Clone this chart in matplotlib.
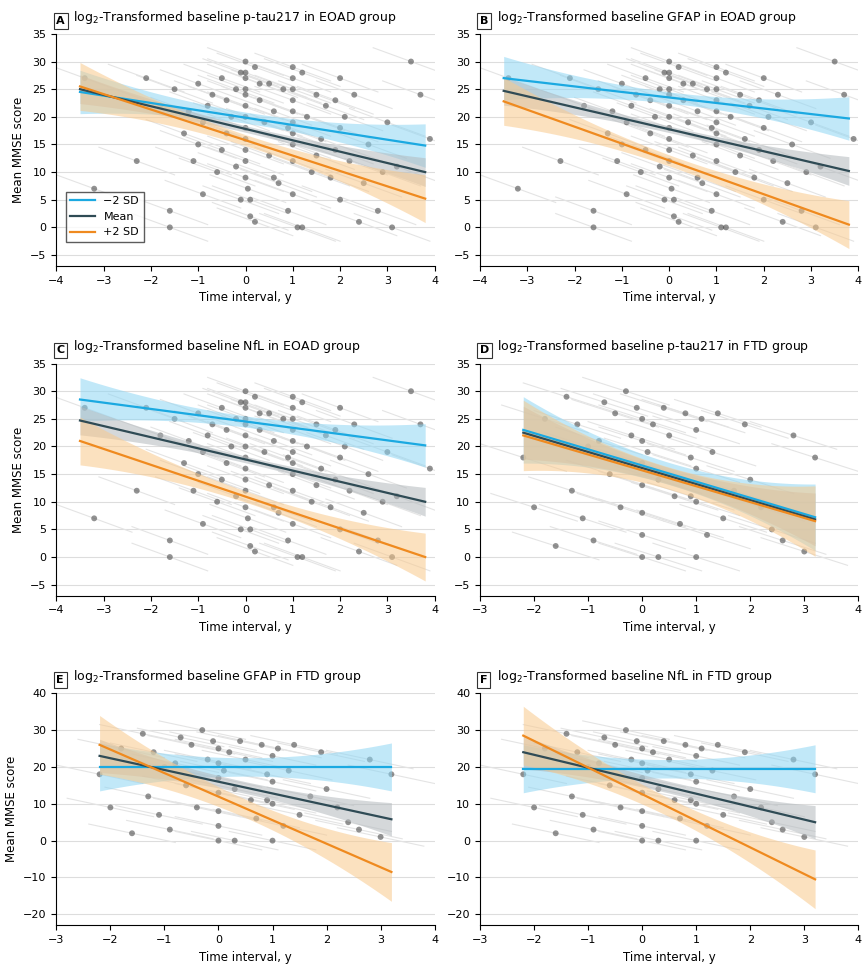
import numpy as np
import matplotlib
matplotlib.use("Agg")
import matplotlib.pyplot as plt

# ---- data ----
eoad_x = [-3.4,-3.2,-2.3,-2.1,-1.8,-1.6,-1.5,-1.3,-1.2,-1.1,-1.0,-1.0,-0.9,-0.8,-0.7,-0.6,-0.5,-0.5,-0.4,-0.3,-0.2,-0.2,-0.1,-0.1,
          0.0,0.0,0.0,0.0,0.0,0.0,0.0,0.0,0.0,0.0,0.0,0.0,0.05,0.1,0.1,0.2,0.2,0.3,0.4,0.5,0.5,0.6,0.7,0.8,0.9,0.9,
          1.0,1.0,1.0,1.0,1.0,1.0,1.0,1.0,1.0,1.0,1.1,1.2,1.3,1.4,1.5,1.6,1.7,1.8,1.9,2.0,2.0,2.0,2.1,2.2,2.3,2.5,2.6,2.8,3.0,3.1,3.2,3.5,3.7,3.9,
          -1.6,-0.9,-0.4,0.3,0.6,1.2,1.5,1.9,2.4,2.9]
eoad_y = [27,7,12,27,22,3,25,17,21,12,26,15,19,22,24,10,27,14,23,20,25,11,28,5,
          30,28,27,25,24,22,20,18,16,14,12,9,7,5,2,1,29,23,19,26,13,21,8,25,18,3,
          29,27,25,23,21,19,17,15,12,6,0,28,20,10,24,16,22,9,14,27,18,5,20,12,24,8,15,3,19,0,11,30,24,16,
          0,6,17,26,9,0,13,23,1,10]
ftd_x = [-2.2,-2.0,-1.8,-1.6,-1.4,-1.2,-1.1,-1.0,-0.9,-0.7,-0.5,-0.4,-0.3,-0.2,-0.1,0.0,0.0,0.0,0.0,0.0,0.0,0.0,0.1,0.2,0.3,
         0.4,0.5,0.6,0.7,0.8,0.9,1.0,1.0,1.0,1.0,1.1,1.2,1.3,1.5,1.7,1.9,2.0,2.2,2.4,2.6,2.8,3.0,3.2,-0.6,-0.8,0.3,0.9,1.4,-1.3]
ftd_y = [18,9,25,2,29,24,7,20,3,28,26,9,30,22,27,25,21,17,13,8,4,0,19,24,14,
         27,22,11,6,26,18,23,16,10,0,25,4,19,7,12,24,14,9,5,3,22,1,18,15,21,0,11,26,12]

panels = [
    ("A", "p-tau217 in EOAD group", "eoad", (-3.5, 3.8), (24.5, 14.8), (25.0, 10.0), (25.5, 5.2)),
    ("B", "GFAP in EOAD group", "eoad", (-3.5, 3.8), (27.0, 19.7), (24.7, 10.2), (22.8, 0.5)),
    ("C", "NfL in EOAD group", "eoad", (-3.5, 3.8), (28.5, 20.2), (24.7, 10.0), (21.0, 0.0)),
    ("D", "p-tau217 in FTD group", "ftd", (-2.2, 3.2), (23.0, 7.2), (22.5, 6.8), (22.0, 6.5)),
    ("E", "GFAP in FTD group", "ftd", (-2.2, 3.2), (20.0, 20.0), (23.0, 5.8), (26.0, -8.5)),
    ("F", "NfL in FTD group", "ftd", (-2.2, 3.2), (19.5, 19.5), (24.0, 5.0), (28.5, -10.5)),
]
band_eoad = {"minus": (1.0, 0.22), "mean": (0.6, 0.15), "plus": (1.0, 0.25)}
band_ftd_d = {"minus": (2.0, 0.55), "mean": (1.5, 0.45), "plus": (2.0, 0.6)}
band_ftd_ef = {"minus": (2.5, 0.55), "mean": (1.6, 0.4), "plus": (2.5, 0.75)}

colors = {"minus": "#1ba9e1", "mean": "#2f4b55", "plus": "#ef8a1f"}
fills = {"minus": "#8ed6f4", "mean": "#b3b9bd", "plus": "#f9c98c"}
labels = {"minus": "\u22122 SD", "mean": "Mean", "plus": "+2 SD"}

fig, axes = plt.subplots(3, 2, figsize=(8.67, 9.69), dpi=100)
fig.subplots_adjust(left=0.065, right=0.99, top=0.965, bottom=0.045, hspace=0.42, wspace=0.12)

for ax, (letter, title, grp, (x0, x1), ym, ymean, yp) in zip(axes.flat, panels):
    xs = np.array(eoad_x if grp == "eoad" else ftd_x)
    ys = np.array(eoad_y if grp == "eoad" else ftd_y)
    for xi, yi in zip(xs, ys):
        ax.plot([xi - 0.8, xi + 0.8], [yi + 2.5, yi - 2.5], color="#e4e4e4", lw=0.8, zorder=1)
    ax.scatter(xs, ys, s=18, color="#4a4a4a", alpha=0.6, edgecolor="none", zorder=2)
    if grp == "eoad":
        bands = band_eoad
    elif letter == "D":
        bands = band_ftd_d
    else:
        bands = band_ftd_ef
    xx = np.linspace(x0, x1, 100)
    xc = (x0 + x1) / 2
    for key, (a, b) in zip(["minus", "mean", "plus"], [ym, ymean, yp]):
        yy = a + (b - a) * (xx - x0) / (x1 - x0)
        c, g = bands[key]
        hw = c + g * (xx - xc) ** 2
        ax.fill_between(xx, yy - hw, yy + hw, color=fills[key], alpha=0.55, lw=0, zorder=3)
        ax.plot(xx, yy, color=colors[key], lw=1.6, zorder=4, label=labels[key])
    if grp == "eoad":
        ax.set_xlim(-4, 4)
    else:
        ax.set_xlim(-3, 4)
    if letter in "EF":
        ax.set_ylim(-23, 40)
        ax.set_yticks(range(-20, 41, 10))
    else:
        ax.set_ylim(-7, 35)
        ax.set_yticks(range(-5, 36, 5))
    ax.grid(axis="y", color="#dddddd", lw=0.8)
    ax.set_axisbelow(True)
    for s in ["top", "right"]:
        ax.spines[s].set_visible(False)
    ax.tick_params(labelsize=8)
    ax.set_xlabel("Time interval, y", fontsize=8.5)
    if letter in "ACE":
        ax.set_ylabel("Mean MMSE score", fontsize=8.5)
    ax.text(0.0, 1.035, letter, transform=ax.transAxes, fontsize=8, fontweight="bold",
            va="bottom", ha="left", bbox=dict(boxstyle="square,pad=0.25", fc="white", ec="#333333", lw=0.8))
    ax.text(0.045, 1.035, r"log$_2$-Transformed baseline " + title, transform=ax.transAxes,
            fontsize=9, va="bottom", ha="left")
    if letter == "A":
        ax.legend(loc="lower left", bbox_to_anchor=(0.01, 0.08), fontsize=8, frameon=True,
                  fancybox=False, edgecolor="#333333", handlelength=2.2)

fig.savefig("out.png", dpi=100)
